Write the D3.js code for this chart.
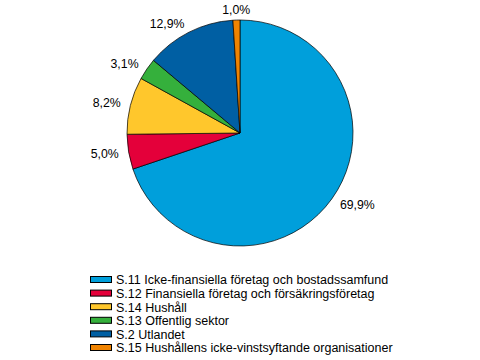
<!DOCTYPE html>
<html><head><meta charset="utf-8">
<script src="https://cdn.jsdelivr.net/npm/d3@7"></script>
<style>body{margin:0;background:#fff}svg{display:block}text{font-family:"Liberation Sans",Arial,sans-serif;fill:#000}</style>
</head><body>
<script>
const categories = [
  "S.11 Icke-finansiella företag och bostadssamfund",
  "S.12 Finansiella företag och försäkringsföretag",
  "S.14 Hushåll",
  "S.13 Offentlig sektor",
  "S.2 Utlandet",
  "S.15 Hushållens icke-vinstsyftande organisationer"
];
const values = [69.9, 5.0, 8.2, 3.1, 12.9, 1.0];
const valueLabels = ["69,9%", "5,0%", "8,2%", "3,1%", "12,9%", "1,0%"];
const colors = ["#009fdb", "#e4003a", "#ffc72c", "#35b03c", "#005fa3", "#f08300"];

const W = 480, H = 360, cx = 240, cy = 133, R = 113, LR = 123;
const svg = d3.select("body").append("svg").attr("width", W).attr("height", H);
const data = categories.map((c, i) => ({c, v: values[i], l: valueLabels[i], col: colors[i]}));
const pie = d3.pie().value(d => d.v).sort(null);
const arcs = pie(data);
const arc = d3.arc().innerRadius(0).outerRadius(R);
const g = svg.append("g").attr("transform", `translate(${cx},${cy})`);
g.selectAll("path").data(arcs).join("path")
  .attr("d", arc).attr("fill", d => d.data.col)
  .attr("stroke", "#000").attr("stroke-width", 0.7).attr("stroke-linejoin", "round");
g.selectAll("text").data(arcs).join("text")
  .each(function(d) {
    const a = (d.startAngle + d.endAngle) / 2;
    const s = Math.sin(a), c = Math.cos(a);
    d3.select(this).attr("x", LR * s).attr("y", -LR * c)
      .attr("dy", "0.35em")
      .attr("text-anchor", s > 0.2 ? "start" : (s < -0.2 ? "end" : "middle"));
  })
  .style("font-size", "12.3px").text(d => d.data.l);

const leg = svg.append("g");
const y0 = 280, step = 13.6;
const rows = leg.selectAll("g").data(data).join("g")
  .attr("transform", (d, i) => `translate(90,${y0 + i * step})`);
rows.append("rect").attr("x", 0.5).attr("y", -3.5).attr("width", 21).attr("height", 6)
  .attr("fill", d => d.col).attr("stroke", "#000").attr("stroke-width", 1);
rows.append("text").attr("x", 26).attr("y", 0).attr("dy", "0.35em")
  .style("font-size", "12.5px").text(d => d.c);
</script>
</body></html>
